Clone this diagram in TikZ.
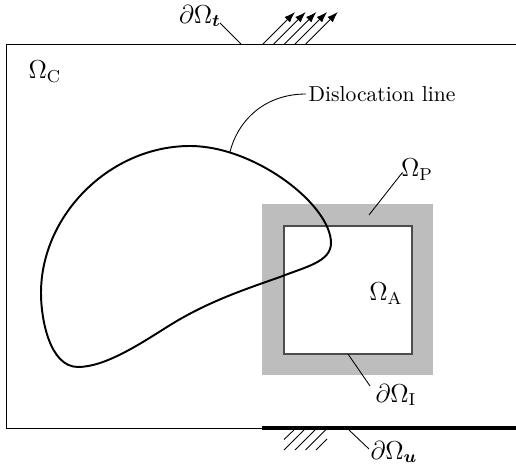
\documentclass[tikz,border=0pt]{standalone}
\usepackage{amsmath,amssymb}
\usepackage{xcolor}
\usetikzlibrary{arrows.meta}
\definecolor{plasticgray}{gray}{0.74}
\tikzset{
  lbl/.style={inner sep=1pt, font=\large},
  leader/.style={line width=0.4pt},
  thickline/.style={line width=0.9pt, line cap=round, line join=round}
}
\begin{document}
\begin{tikzpicture}[x=0.4627pt, y=-0.4627pt]
      \useasboundingbox (0,0) rectangle (516,470);

      % Body
      \draw[line width=0.45pt] (516,44) -- (6,44) -- (6,428) -- (516,428);
      \draw[line width=1.8pt] (262,428) -- (516,428);

      % Plastic and active regions
      \fill[plasticgray] (262,204) rectangle (433,375);
      \draw[fill=white, draw=black!70, line width=0.5pt] (284,226) rectangle (412,354);

      % Dislocation line
      \draw[thickline] (190,146) .. controls (255,146) and (331,205) .. (331,243)
        .. controls (331,262) and (305,267) .. (280,277)
        .. controls (240,291) and (205,303) .. (167,327)
        .. controls (140,344) and (105,367) .. (78,367)
        .. controls (50,367) and (41,320) .. (41,293)
        .. controls (41,215) and (110,146) .. (190,146) -- cycle;

      % Traction arrows
      \foreach \x [count=\xi] in {263,273.7,284.4,295.1,305.8}
        \draw[-{Latex[length=5pt,width=3.5pt]}, line width=0.4pt] (\x,44) -- ++(32,-32);

      % Support hatching
      \draw[leader] (284,439.5) -- (294,430);
      \foreach \x in {284,295,305.5}
        \draw[leader] (\x,450) -- ++(20,-20);
      \draw[leader] (316,450) -- (327,439);

      % Labels
      \node[lbl] (lblC) at (45,72) {$\Omega_{\mathrm{C}}$};
      \node[lbl] (lblA) at (386,294) {$\Omega_{\mathrm{A}}$};
      \node[lbl] (lblP) at (417,170) {$\Omega_{\mathrm{P}}$};
      \node[lbl] (lblI) at (396,395) {$\partial\Omega_{\mathrm{I}}$};
      \node[lbl] (lblT) at (200,16) {$\partial\Omega_{\boldsymbol{t}}$};
      \node[lbl] (lblU) at (394,452) {$\partial\Omega_{\boldsymbol{u}}$};
      \node[inner sep=1pt, anchor=west] (lblD) at (306,94) {Dislocation line};

      % Leaders
      \coordinate (ptT) at (241,44);
      \coordinate (ptU) at (349,430);
      \coordinate (ptP) at (369,215);
      \coordinate (ptI) at (348,354);
      \coordinate (ptD) at (230,152);
      \coordinate (endT) at (220,23);
      \coordinate (endU) at (369,449);
      \coordinate (endP) at (402,173);
      \coordinate (endI) at (370,386);
      \draw[leader] (endT) -- (ptT);
      \draw[leader] (endU) -- (ptU);
      \draw[leader] (endP) -- (ptP);
      \draw[leader] (endI) -- (ptI);
      \draw[leader] (ptD) .. controls (238,120) and (265,94) .. (lblD.west);
    \end{tikzpicture}
\end{document}
